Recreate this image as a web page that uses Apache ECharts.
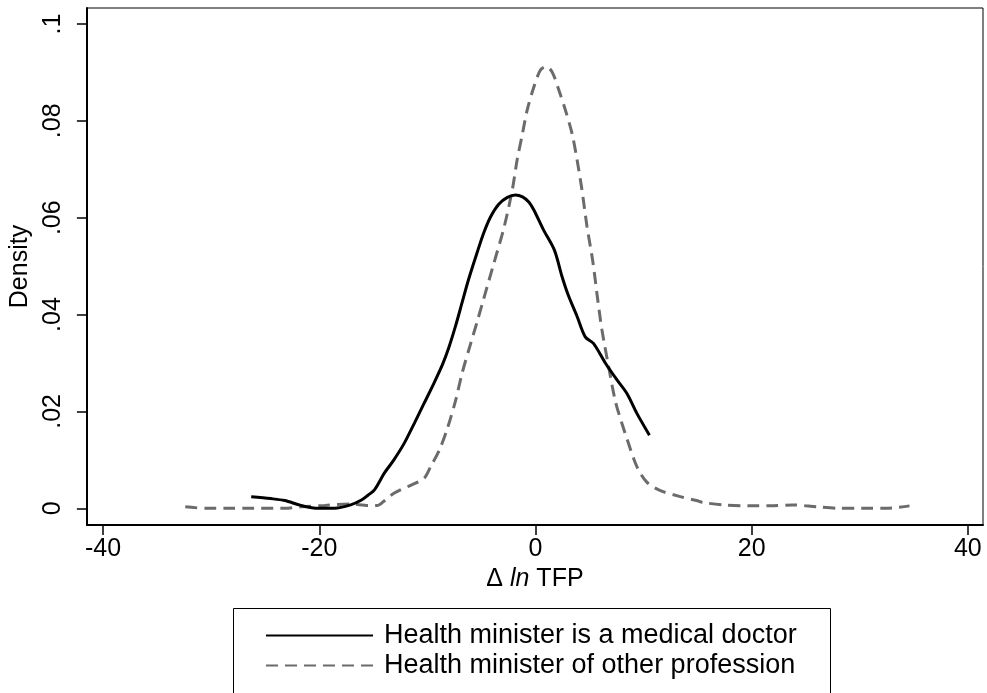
<!DOCTYPE html>
<html>
<head>
<meta charset="utf-8">
<script src="https://cdn.jsdelivr.net/npm/echarts@6/dist/echarts.min.js"></script>
<style>
html,body{margin:0;padding:0;background:#fff;}
#chart{width:987px;height:693px;}
</style>
</head>
<body>
<div id="chart"></div>
<script>
const xTicks = [-40, -20, 0, 20, 40];
const yTicks = [0, 0.02, 0.04, 0.06, 0.08, 0.1];
const yTickLabels = ['0', '.02', '.04', '.06', '.08', '.1'];
const seriesNames = ['Health minister is a medical doctor', 'Health minister of other profession'];

const doctorX = [-26.3, -24.5, -23.2, -21.7, -20.1, -18.6, -17.1, -16.1, -15.5, -14.9, -14.0, -13.1, -12.15, -11.2, -10.3, -9.4, -8.6, -8.0, -7.4, -6.8, -6.2, -5.4, -4.8, -4.15, -3.4, -2.6, -1.85, -1.2, -0.6, -0.15, 0.74, 1.75, 2.46, 3.0, 3.85, 4.6, 5.38, 6.46, 7.54, 8.46, 9.38, 10.54];
const doctorY = [0.0024, 0.0020, 0.0016, 0.0006, 0.0000, 0.0000, 0.0007, 0.0017, 0.0027, 0.0038, 0.0072, 0.0100, 0.0134, 0.0176, 0.0217, 0.0258, 0.0297, 0.0333, 0.0376, 0.0424, 0.0472, 0.0528, 0.0568, 0.0602, 0.0628, 0.0642, 0.0647, 0.0643, 0.0632, 0.0616, 0.0575, 0.0533, 0.0478, 0.0442, 0.0396, 0.0354, 0.0340, 0.0300, 0.0265, 0.0237, 0.0196, 0.0151];

const otherX = [-32.4, -30.5, -28.5, -26.3, -23.2, -21.7, -19.5, -17.1, -15.5, -14.6, -14.0, -13.1, -11.5, -10.3, -9.7, -8.9, -8.15, -7.4, -6.8, -6.0, -5.4, -4.8, -3.85, -2.9, -2.15, -1.7, -1.2, -0.77, -0.15, 0.46, 1.0, 1.54, 2.15, 2.77, 3.38, 3.85, 4.3, 4.77, 5.3, 5.75, 6.15, 6.77, 7.4, 8.0, 8.5, 9.38, 10.3, 11.5, 13.4, 14.9, 15.5, 17.4, 19.8, 21.7, 23.8, 26.0, 28.1, 30.3, 32.4, 34.6];
const otherY = [0.0003, 0.0000, 0.0000, 0.0000, 0.0000, 0.0003, 0.0006, 0.0009, 0.0006, 0.0006, 0.0015, 0.0031, 0.0048, 0.0062, 0.0086, 0.0120, 0.0165, 0.0222, 0.0278, 0.0340, 0.0385, 0.0432, 0.0506, 0.0581, 0.0657, 0.0719, 0.0774, 0.0822, 0.0870, 0.0905, 0.0912, 0.0901, 0.0864, 0.0822, 0.0774, 0.0719, 0.0657, 0.0581, 0.0510, 0.0432, 0.0368, 0.0292, 0.0220, 0.0175, 0.0141, 0.0086, 0.0054, 0.0037, 0.0024, 0.0016, 0.0012, 0.0007, 0.0005, 0.0005, 0.0007, 0.0003, 0.0000, 0.0000, 0.0000, 0.0005];

const zip = (xs, ys) => xs.map((x, i) => [x, ys[i]]);
const FONT = '"Liberation Sans", Arial, sans-serif';
const FS = 25;
const LFS = 27;

const chart = echarts.init(document.getElementById('chart'), null, {renderer: 'canvas'});
chart.setOption({
  animation: false,
  backgroundColor: '#fff',
  textStyle: {fontFamily: FONT},
  grid: {left: 84, top: 8, right: 4, bottom: 168, show: true, borderColor: '#000', borderWidth: 1, backgroundColor: '#fff'},
  graphic: [{
    type: 'rect', left: 233, top: 608, z: -1, silent: true,
    shape: {width: 597, height: 100},
    style: {fill: '#fff', stroke: '#000', lineWidth: 1}
  }],
  xAxis: {
    type: 'value', min: -41.5, max: 41.4,
    splitLine: {show: false},
    axisLine: {show: true, onZero: false, lineStyle: {color: '#000', width: 2}},
    axisTick: {show: true, length: 10, lineStyle: {color: '#000', width: 1.5}, customValues: xTicks},
    axisLabel: {show: true, customValues: xTicks, color: '#000', fontSize: FS, fontFamily: FONT, margin: 12},
    name: '\u0394 {i|ln} TFP',
    nameLocation: 'middle', nameGap: 40,
    nameTextStyle: {color: '#000', fontSize: FS, fontFamily: FONT,
      rich: {i: {fontStyle: 'italic', fontSize: FS, fontFamily: FONT, color: '#000'}}}
  },
  yAxis: {
    type: 'value', min: -0.00345, max: 0.1033,
    splitLine: {show: false},
    axisLine: {show: true, onZero: false, lineStyle: {color: '#000', width: 2}},
    axisTick: {show: true, length: 10, lineStyle: {color: '#000', width: 1.5}, customValues: yTicks},
    axisLabel: {show: true, customValues: yTicks, rotate: 90, color: '#000', fontSize: FS, fontFamily: FONT, margin: 21,
      formatter: v => { const i = yTicks.findIndex(t => Math.abs(t - v) < 1e-9); return i >= 0 ? yTickLabels[i] : ''; }},
    name: 'Density', nameLocation: 'middle', nameGap: 48, nameRotate: 90,
    nameTextStyle: {color: '#000', fontSize: FS, fontFamily: FONT}
  },
  legend: {
    orient: 'vertical', left: 265, top: 622,
    padding: 0,
    itemWidth: 107, itemHeight: 14, itemGap: 3,
    itemStyle: {opacity: 0},
    textStyle: {color: '#000', fontSize: LFS, lineHeight: 27, fontFamily: FONT, padding: [0, 0, 0, 6]},
    data: seriesNames
  },
  series: [
    {name: seriesNames[0], type: 'line', data: zip(doctorX, doctorY), showSymbol: false, symbol: 'none', smooth: 0.3,
      lineStyle: {color: '#000', width: 3}, itemStyle: {color: '#000'}, z: 3},
    {name: seriesNames[1], type: 'line', data: zip(otherX, otherY), showSymbol: false, symbol: 'none', smooth: 0.3,
      lineStyle: {color: '#6b6b6b', width: 3, type: [12, 7]}, itemStyle: {color: '#6b6b6b'}, z: 2}
  ]
});
</script>
</body>
</html>
